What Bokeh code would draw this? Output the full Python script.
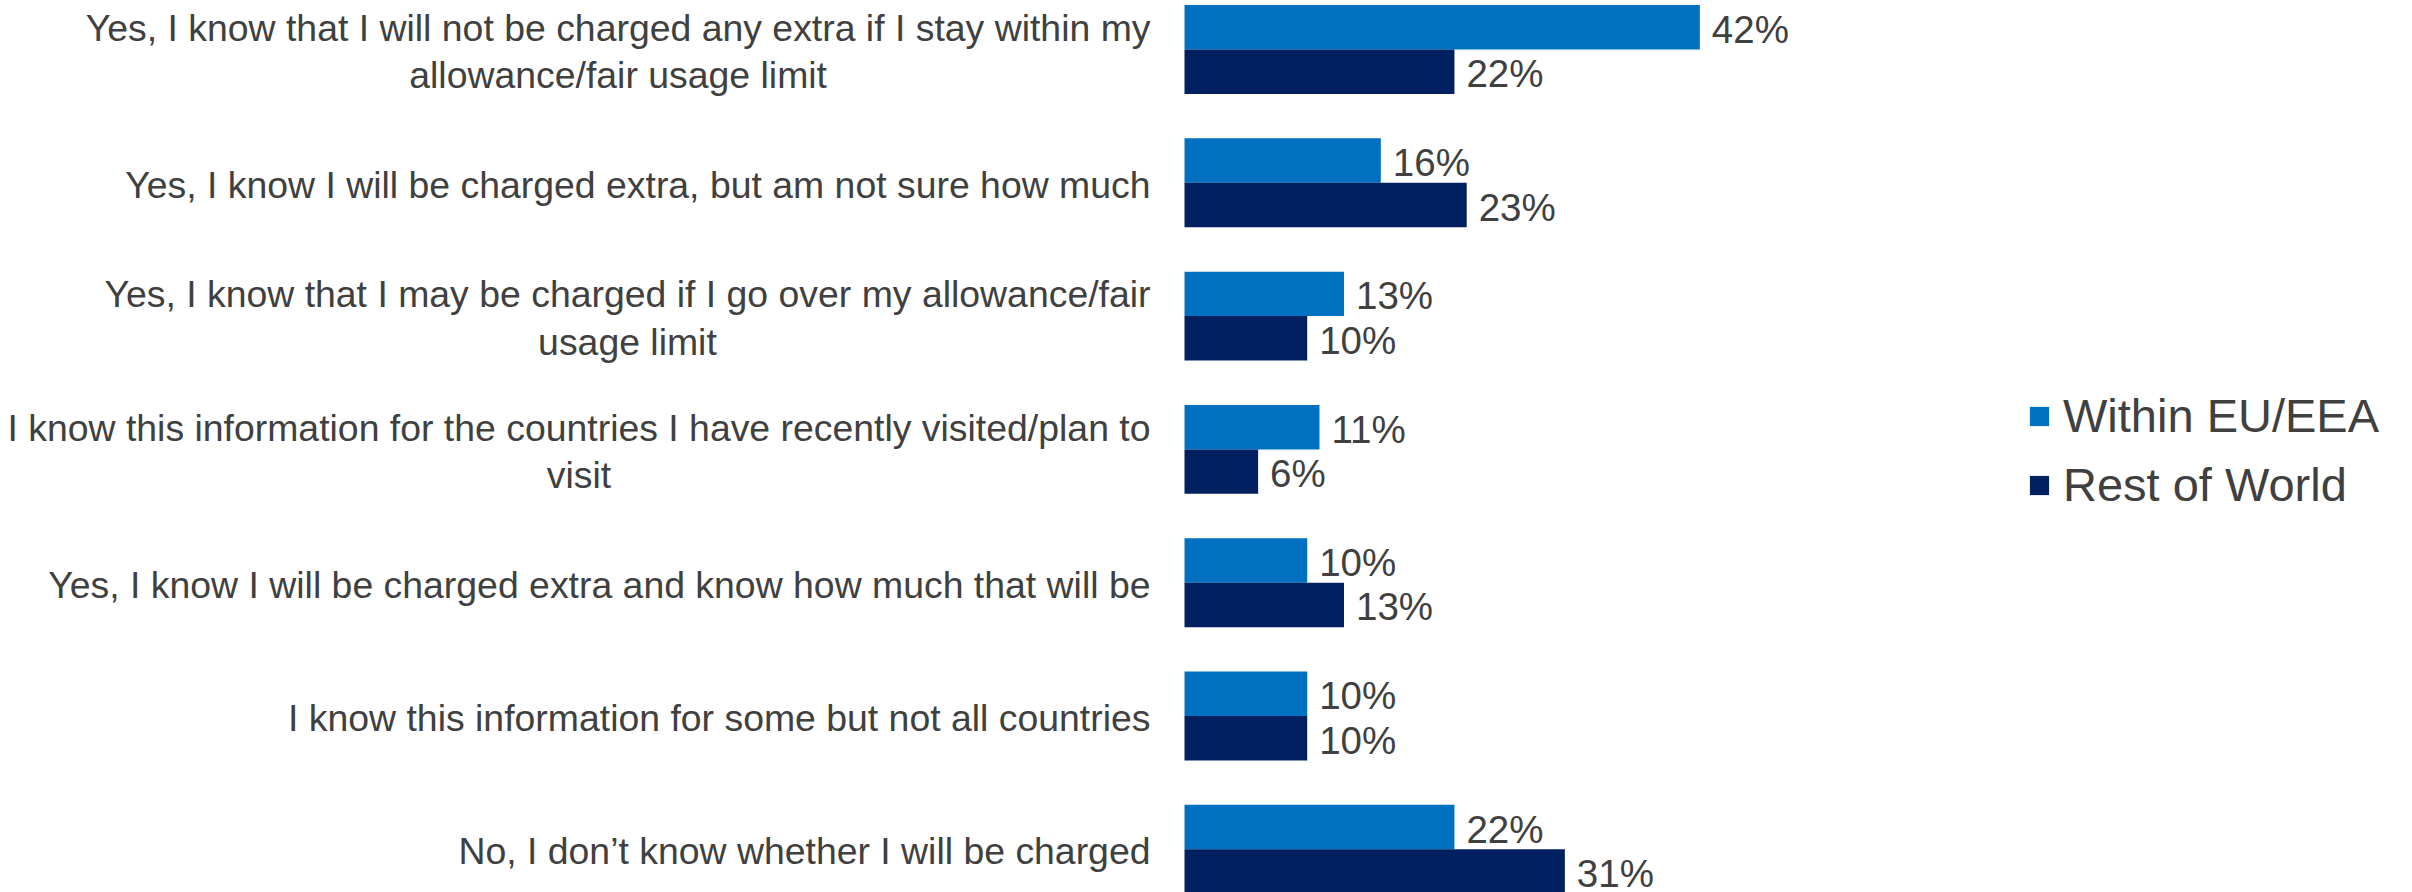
from bokeh.plotting import figure
from bokeh.models import ColumnDataSource, Range1d, Legend, LegendItem
from bokeh.core.properties import value
from bokeh.embed import file_html
from bokeh.resources import INLINE

categories = [
    "Yes, I know that I will not be charged any extra if I stay within my\nallowance/fair usage limit",
    "Yes, I know I will be charged extra, but am not sure how much",
    "Yes, I know that I may be charged if I go over my allowance/fair\nusage limit",
    "I know this information for the countries I have recently visited/plan to\nvisit",
    "Yes, I know I will be charged extra and know how much that will be",
    "I know this information for some but not all countries",
    "No, I don\u2019t know whether I will be charged",
]
within_eu = [42, 16, 13, 11, 10, 10, 22]
rest_of_world = [22, 23, 10, 6, 13, 10, 31]
series_names = ["Within EU/EEA", "Rest of World"]

EU_COLOR = "#0070C0"
ROW_COLOR = "#002060"
TEXT_COLOR = "#404040"
FONT = "Liberation Sans"

W, H = 2412, 892
PX_PER_PCT = 12.27
ZERO_X = 1184  # pixel of zero within figure
GROUP_PX = 133.3
FIRST_CENTER = 49  # pixel of first group centre within figure

idx = list(range(len(categories)))
bar_h = 1 / 3

src = ColumnDataSource(dict(
    idx=idx,
    cat=categories,
    y_eu=[i - bar_h / 2 for i in idx],
    y_row=[i + bar_h / 2 for i in idx],
    eu=within_eu,
    row=rest_of_world,
    eu_lbl=[f"{v}%" for v in within_eu],
    row_lbl=[f"{v}%" for v in rest_of_world],
))

x_range = Range1d(-ZERO_X / PX_PER_PCT, (W - ZERO_X) / PX_PER_PCT)
y_range = Range1d((H - FIRST_CENTER) / GROUP_PX, -FIRST_CENTER / GROUP_PX)

p = figure(width=W, height=H, x_range=x_range, y_range=y_range,
           output_backend="svg", toolbar_location=None, min_border=0,
           outline_line_color=None, background_fill_color="white")
p.xaxis.visible = False
p.yaxis.visible = False
p.xgrid.visible = False
p.ygrid.visible = False

r_eu = p.hbar(y="y_eu", left=0, right="eu", height=bar_h, source=src,
              fill_color=EU_COLOR, line_color=None)
r_row = p.hbar(y="y_row", left=0, right="row", height=bar_h, source=src,
               fill_color=ROW_COLOR, line_color=None)

p.text(x="eu", y="y_eu", text="eu_lbl", source=src, x_offset=12, y_offset=2,
       text_font=value(FONT), text_font_size="38.5px", text_color=TEXT_COLOR,
       text_align="left", text_baseline="middle")
p.text(x="row", y="y_row", text="row_lbl", source=src, x_offset=12, y_offset=2,
       text_font=value(FONT), text_font_size="38.5px", text_color=TEXT_COLOR,
       text_align="left", text_baseline="middle")

p.text(x=0, y="idx", text="cat", source=src, x_offset=-34, y_offset=2,
       text_font=value(FONT), text_font_size="37.4px", text_color=TEXT_COLOR,
       text_align="center", anchor="center_right", text_line_height=1.13)

legend = Legend(items=[LegendItem(label=series_names[0], renderers=[r_eu]),
                       LegendItem(label=series_names[1], renderers=[r_row])],
                location=(2027, 380), orientation="vertical",
                glyph_width=24, glyph_height=24, label_standoff=12,
                label_text_font=FONT, label_text_font_size="47px",
                label_text_color=TEXT_COLOR, spacing=14, padding=0,
                margin=0, border_line_color=None, background_fill_alpha=0)
p.add_layout(legend)

open("out.html", "w").write(file_html(p, INLINE))
